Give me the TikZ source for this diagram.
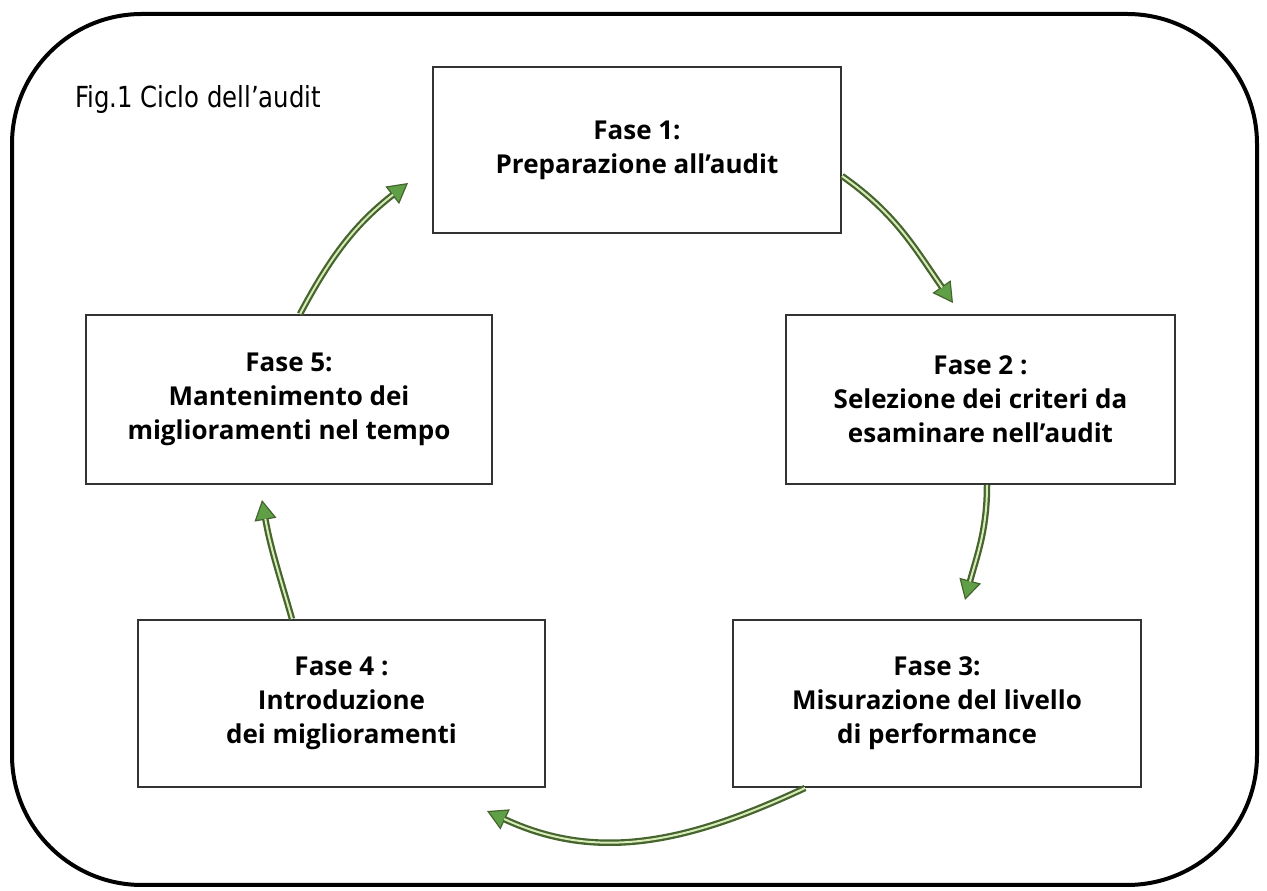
\documentclass[tikz,border=0pt]{standalone}
\usepackage{fontspec}
\setmainfont{Open Sans}
\newfontfamily\figfont{DejaVu Sans}
\usetikzlibrary{arrows.meta}
\definecolor{arrdark}{RGB}{70,100,45}
\definecolor{arrlight}{RGB}{215,235,185}
\definecolor{arrhead}{RGB}{95,160,70}
\tikzset{
  x=1pt,y=1pt,
  fase/.style={draw=black!80,line width=2pt,fill=white,align=center,
    font=\fontsize{26}{34}\selectfont\bfseries,inner sep=0pt},
  arrout/.style={draw=arrdark,line width=6.5pt,
    -{Triangle[length=20pt,width=22pt,fill=arrhead,line width=1.2pt]}},
  arrin/.style={draw=arrlight,line width=2pt,shorten >=19pt},
}
\newcommand{\cyc}[1]{\path[arrout] #1; \path[arrin] #1;}
\begin{document}
\begin{tikzpicture}
\useasboundingbox (0,0) rectangle (1267,891);
\fill[white] (0,0) rectangle (1267,891);
\draw[line width=4pt,rounded corners=130pt] (12,6) rectangle (1257,877);
\node[anchor=west,inner sep=0pt] (title) at (75,791) {\scalebox{0.84}[1]{\figfont\fontsize{29}{31}\selectfont Fig.1 Ciclo dell’audit}};
\node[fase,minimum width=408pt,minimum height=166pt] (b1) at (637,741) {Fase 1:\\Preparazione all’audit};
\node[fase,minimum width=389pt,minimum height=169pt] (b2) at (980.5,491.5) {Fase 2 :\\Selezione dei criteri da\\esaminare nell’audit};
\node[fase,minimum width=408pt,minimum height=167pt] (b3) at (937,187.5) {Fase 3:\\Misurazione del livello\\di performance};
\node[fase,minimum width=407pt,minimum height=167pt] (b4) at (341.5,187.5) {Fase 4 :\\Introduzione\\dei miglioramenti};
\node[fase,minimum width=406pt,minimum height=169pt] (b5) at (289,491.5) {Fase 5:\\Mantenimento dei\\miglioramenti nel tempo};
\coordinate (e1) at (953,588);
\coordinate (e2) at (965,291);
\coordinate (e3) at (487,80);
\coordinate (e4) at (262,391);
\coordinate (e5) at (408,708);
\cyc{(b1.east |- 0,715) to[out=-35,in=125] (e1)}
\cyc{(987,0 |- b2.south) to[out=-90,in=75] (e2)}
\cyc{(805,0 |- b3.south) to[out=205,in=-25] (e3)}
\cyc{(292,0 |- b4.north) to[out=106,in=-80] (e4)}
\cyc{(300,0 |- b5.north) to[out=62,in=218] (e5)}
\end{tikzpicture}
\end{document}
